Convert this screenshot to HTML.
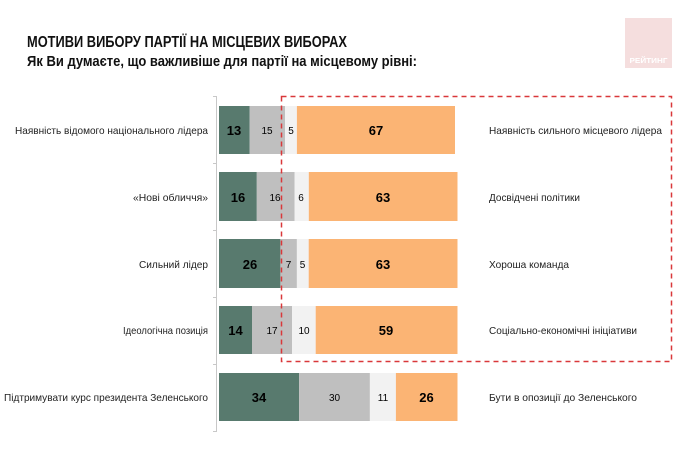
<!DOCTYPE html>
<html><head><meta charset="utf-8"><style>
body{margin:0;background:#fff;width:690px;height:459px;overflow:hidden}
svg{display:block;font-family:"Liberation Sans",sans-serif}
</style></head><body>
<svg width="690" height="459" viewBox="0 0 690 459">
<rect x="625" y="18" width="47" height="50" fill="#f5dede"/>
<text x="648.5" y="63" font-size="7" font-weight="bold" fill="#fff" text-anchor="middle" textLength="38" lengthAdjust="spacingAndGlyphs">РЕЙТИНГ</text>
<text x="27" y="47" font-size="15.5" font-weight="bold" fill="#111" textLength="320" lengthAdjust="spacingAndGlyphs">МОТИВИ ВИБОРУ ПАРТІЇ НА МІСЦЕВИХ ВИБОРАХ</text>
<text x="27" y="66" font-size="14.5" font-weight="bold" fill="#111" textLength="390" lengthAdjust="spacingAndGlyphs">Як Ви думаєте, що важливіше для партії на місцевому рівні:</text>
<g stroke="#c8c8c8" stroke-width="1">
<line x1="216.5" y1="96" x2="216.5" y2="432"/>
<line x1="213" y1="96.5" x2="216.5" y2="96.5"/>
<line x1="213" y1="163.5" x2="216.5" y2="163.5"/>
<line x1="213" y1="230.5" x2="216.5" y2="230.5"/>
<line x1="213" y1="297.5" x2="216.5" y2="297.5"/>
<line x1="213" y1="364.5" x2="216.5" y2="364.5"/>
<line x1="213" y1="431.5" x2="216.5" y2="431.5"/>
</g>
<g font-size="10" text-anchor="middle">
<rect x="219" y="106" width="30.7" height="48" fill="#587a6e"/><rect x="249.7" y="106" width="35.4" height="48" fill="#bfbfbf"/><rect x="285.1" y="106" width="11.8" height="48" fill="#f2f2f2"/><rect x="296.9" y="106" width="158.1" height="48" fill="#fbb474"/>
<text x="234" y="135" font-size="13" font-weight="bold">13</text><text x="267" y="134">15</text><text x="291" y="134">5</text><text x="376" y="135" font-size="13" font-weight="bold">67</text>
<rect x="219" y="172" width="37.8" height="49" fill="#587a6e"/><rect x="256.8" y="172" width="37.8" height="49" fill="#bfbfbf"/><rect x="294.6" y="172" width="14.2" height="49" fill="#f2f2f2"/><rect x="308.8" y="172" width="148.7" height="49" fill="#fbb474"/>
<text x="238" y="202" font-size="13" font-weight="bold">16</text><text x="275" y="201">16</text><text x="301" y="201">6</text><text x="383" y="202" font-size="13" font-weight="bold">63</text>
<rect x="219" y="239" width="61.4" height="49" fill="#587a6e"/><rect x="280.4" y="239" width="16.5" height="49" fill="#bfbfbf"/><rect x="296.9" y="239" width="11.8" height="49" fill="#f2f2f2"/><rect x="308.7" y="239" width="148.8" height="49" fill="#fbb474"/>
<text x="250" y="269" font-size="13" font-weight="bold">26</text><text x="288.5" y="268">7</text><text x="302.5" y="268">5</text><text x="383" y="269" font-size="13" font-weight="bold">63</text>
<rect x="219" y="306" width="33" height="48" fill="#587a6e"/><rect x="252" y="306" width="40.1" height="48" fill="#bfbfbf"/><rect x="292.1" y="306" width="23.6" height="48" fill="#f2f2f2"/><rect x="315.7" y="306" width="141.8" height="48" fill="#fbb474"/>
<text x="235.5" y="335" font-size="13" font-weight="bold">14</text><text x="272" y="334">17</text><text x="304" y="334">10</text><text x="386" y="335" font-size="13" font-weight="bold">59</text>
<rect x="219" y="373" width="80.1" height="48" fill="#587a6e"/><rect x="299.1" y="373" width="70.8" height="48" fill="#bfbfbf"/><rect x="369.9" y="373" width="26" height="48" fill="#f2f2f2"/><rect x="395.9" y="373" width="61.6" height="48" fill="#fbb474"/>
<text x="259" y="402" font-size="13" font-weight="bold">34</text><text x="334.5" y="401">30</text><text x="383" y="401">11</text><text x="426.5" y="402" font-size="13" font-weight="bold">26</text>
</g>
<rect x="281.5" y="96.5" width="390" height="265" fill="none" stroke="#d9383a" stroke-width="1.5" stroke-dasharray="5,4"/>
<g font-size="10.5" fill="#222" lengthAdjust="spacingAndGlyphs">
<text x="15" y="134" textLength="193" lengthAdjust="spacingAndGlyphs">Наявність відомого національного лідера</text>
<text x="133" y="201" textLength="75" lengthAdjust="spacingAndGlyphs">«Нові обличчя»</text>
<text x="139" y="268" textLength="69" lengthAdjust="spacingAndGlyphs">Сильний лідер</text>
<text x="123" y="334" textLength="85" lengthAdjust="spacingAndGlyphs">Ідеологічна позиція</text>
<text x="4" y="401" textLength="204" lengthAdjust="spacingAndGlyphs">Підтримувати курс президента Зеленського</text>
<text x="489" y="134" textLength="173" lengthAdjust="spacingAndGlyphs">Наявність сильного місцевого лідера</text>
<text x="489" y="201" textLength="91" lengthAdjust="spacingAndGlyphs">Досвідчені політики</text>
<text x="489" y="268" textLength="80" lengthAdjust="spacingAndGlyphs">Хороша команда</text>
<text x="489" y="334" textLength="148" lengthAdjust="spacingAndGlyphs">Соціально-економічні ініціативи</text>
<text x="489" y="401" textLength="148" lengthAdjust="spacingAndGlyphs">Бути в опозиції до Зеленського</text>
</g>
</svg>
</body></html>
